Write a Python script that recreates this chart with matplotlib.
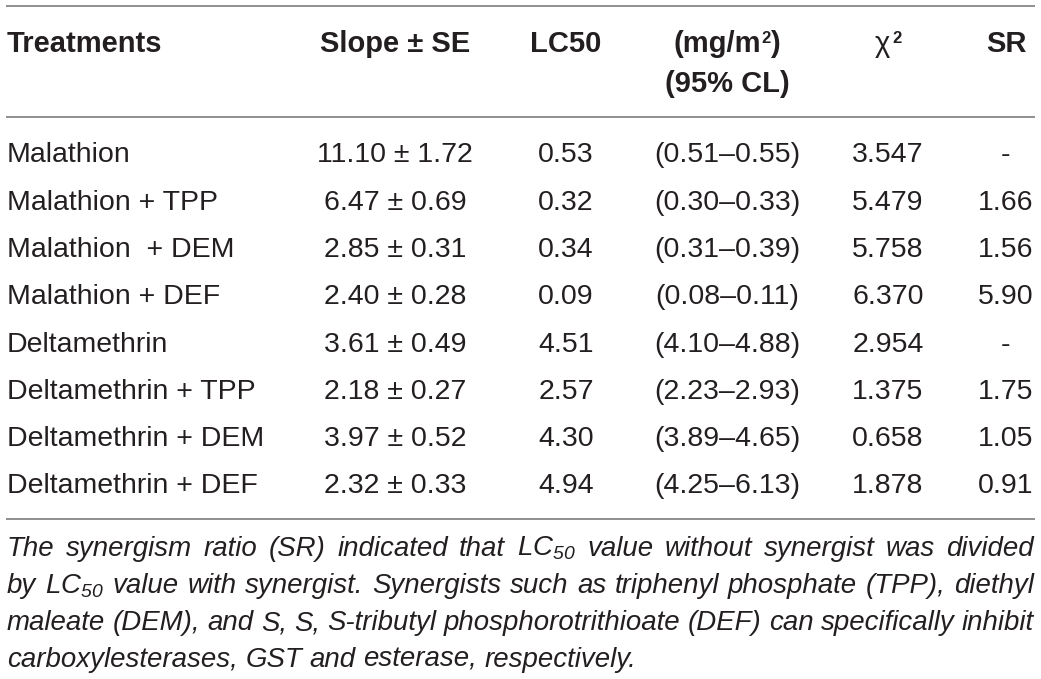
import matplotlib
matplotlib.use("Agg")
import matplotlib.pyplot as plt

plt.rcParams['font.family'] = ['Liberation Sans', 'DejaVu Sans']
plt.rcParams['mathtext.fontset'] = 'custom'
plt.rcParams['mathtext.rm'] = 'Liberation Sans:italic'
plt.rcParams['mathtext.it'] = 'Liberation Sans:italic'

treatments = ["Malathion", "Malathion + TPP", "Malathion  + DEM", "Malathion + DEF",
              "Deltamethrin", "Deltamethrin + TPP", "Deltamethrin + DEM", "Deltamethrin + DEF"]
slope = [11.10, 6.47, 2.85, 2.40, 3.61, 2.18, 3.97, 2.32]
slope_se = [1.72, 0.69, 0.31, 0.28, 0.49, 0.27, 0.52, 0.33]
lc50 = [0.53, 0.32, 0.34, 0.09, 4.51, 2.57, 4.30, 4.94]
cl_low = [0.51, 0.30, 0.31, 0.08, 4.10, 2.23, 3.89, 4.25]
cl_high = [0.55, 0.33, 0.39, 0.11, 4.88, 2.93, 4.65, 6.13]
chi2 = ["3.547", "5.479", "5.758", "6.370", "2.954", "1.375", "0.658", "1.878"]
sr = ["-", "1.66", "1.56", "5.90", "-", "1.75", "1.05", "0.91"]

footnote = [
    "The synergism ratio (SR) indicated that LC$_{50}$ value without synergist was divided",
    "by LC$_{50}$ value with synergist. Synergists such as triphenyl phosphate (TPP), diethyl",
    "maleate (DEM), and S, S, S-tributyl phosphorotrithioate (DEF) can specifically inhibit",
    "carboxylesterases, GST and esterase, respectively.",
]

W, H = 1041, 679
fig = plt.figure(figsize=(W / 100, H / 100), dpi=100)
ax = fig.add_axes([0, 0, 1, 1])
ax.set_xlim(0, W)
ax.set_ylim(H, 0)
ax.axis('off')

txt_col = '#231f20'
line_col = '#8f8f8f'
fs = 20.5
hfs = 21
sup_fs = 12

fig.canvas.draw()
renderer = fig.canvas.get_renderer()


def measure(s, **kw):
    t = ax.text(0, 0, s, **kw)
    w = t.get_window_extent(renderer).width
    t.remove()
    return w


# rules
for y in [5.7, 116.7, 519]:
    ax.plot([6, 1035], [y, y], color=line_col, lw=1.4, solid_capstyle='butt')

# column centres
cx_slope, cx_lc, cx_cl, cx_chi, cx_sr = 395, 566, 727, 888, 1006

# header
hy = 52
hkw = dict(fontsize=hfs, fontweight='bold', color=txt_col, va='baseline')
ax.text(7, hy, "Treatments", ha='left', **hkw)
ax.text(cx_slope, hy, "Slope ± SE", ha='center', **hkw)
ax.text(cx_lc, hy, "LC50", ha='center', **hkw)

# (mg/m2) with a raised 2, built from three pieces
supkw = dict(fontsize=sup_fs, fontweight='bold', color=txt_col, va='baseline')
parts = [("(mg/m", hkw, 0), ("2", supkw, -9), (")", hkw, 0)]
pw = [measure(s, **k) for s, k, _ in parts]
x = cx_cl - sum(pw) / 2
for (s, k, dyo), w in zip(parts, pw):
    ax.text(x, hy + dyo, s, ha='left', **k)
    x += w
ax.text(cx_cl, hy + 40, "(95% CL)", ha='center', **hkw)

ax.text(cx_chi - 6, hy, "χ", ha='center', fontsize=hfs, color=txt_col, va='baseline')
ax.text(cx_chi + 4, hy - 9, "2", ha='left', **supkw)
ax.text(cx_sr, hy, "SR", ha='center', **hkw)

# rows
y0, dy = 162.3, 47.3
kw = dict(fontsize=fs, color=txt_col, va='baseline')
for i, name in enumerate(treatments):
    y = y0 + i * dy
    ax.text(7, y, name, ha='left', **kw)
    ax.text(cx_slope, y, f"{slope[i]:.2f} ± {slope_se[i]:.2f}", ha='center', **kw)
    ax.text(cx_lc, y, f"{lc50[i]:.2f}", ha='center', **kw)
    ax.text(cx_cl, y, f"({cl_low[i]:.2f}–{cl_high[i]:.2f})", ha='center', **kw)
    ax.text(cx_chi, y, chi2[i], ha='center', **kw)
    ax.text(cx_sr, y, sr[i], ha='center', **kw)

# footnote, justified like the journal layout
left, right = 7, 1034
ffs = 20.0

# shrink if a line would not fit with normal spaces
widest = max(measure(l, fontsize=ffs, style='italic') for l in footnote)
if widest > right - left:
    ffs *= (right - left) / widest

fkw = dict(fontsize=ffs, style='italic', color=txt_col, va='baseline')
space = measure('a a', fontsize=ffs, style='italic') - measure('aa', fontsize=ffs, style='italic')
fy0, fdy = 556, 37
for li, line in enumerate(footnote):
    y = fy0 + li * fdy
    words = line.split(' ')
    arts = [ax.text(0, y, w, ha='left', **fkw) for w in words]
    widths = [a.get_window_extent(renderer).width for a in arts]
    if li < len(footnote) - 1:
        gap = (right - left - sum(widths)) / (len(words) - 1)
    else:
        gap = space
    x = left
    for a, w in zip(arts, widths):
        a.set_x(x)
        x += w + gap

fig.savefig("out.png", dpi=100)
